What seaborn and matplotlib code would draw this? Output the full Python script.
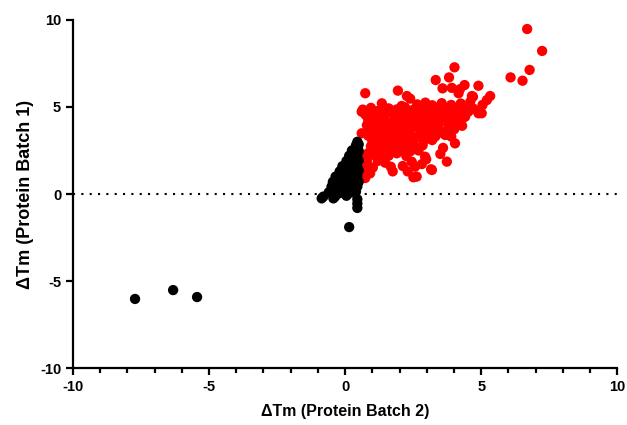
import numpy as np
import pandas as pd
import seaborn as sns
import matplotlib.pyplot as plt

# values: (batch 2, batch 1) delta Tm
red_x = [6.69, 7.24, 6.78, 6.08, 6.52, 4.02, 3.33, 3.82, 3.58, 4.39, 4.90, 0.74, 1.94, 2.27, 2.39,
         4.17, 4.66, 5.33, 5.21, 1.35, 2.08, 0.61, 4.90, 5.02, 4.41, 4.01, 4.04, 3.74, 3.16, 2.57,
         2.63, 2.51, 2.12, 1.68, 1.47, 0.92, 0.61, 1.04, 2.98, 0.85, 0.80, 0.74, 1.90, 1.21, 2.70,
         3.31, 4.04, 4.53, 4.60, 3.98, 3.68, 0.74, 2.94, 2.57, 3.31, 1.47, 0.92, 1.65, 4.70, 3.19,
         1.02, 1.32, 2.30, 2.82, 3.50, 3.90, 4.30, 4.72, 5.05, 3.92, 4.22, 1.75, 2.45, 0.70, 3.60,
         # dense core
         2.65, 2.95, 3.20, 3.55, 3.90, 4.25,
         0.65, 0.95, 1.25, 1.60, 1.90, 2.20, 2.50, 2.80, 3.05, 3.35, 3.65, 3.95, 4.30, 4.55,
         0.75, 1.05, 1.40, 1.70, 2.00, 2.30, 2.60, 2.90, 3.20, 3.50, 3.80, 4.10, 4.40,
         0.85, 1.15, 1.45, 1.80, 2.10, 2.40, 2.75, 3.05, 3.35, 3.70, 4.00, 4.30,
         0.80, 1.10, 1.35, 1.65, 1.95, 2.30, 2.60, 2.85, 3.15, 3.45, 3.80, 4.15,
         0.90, 1.20, 1.55, 1.85, 2.15, 2.45, 2.80, 3.10, 3.40, 3.70,
         0.85, 1.10, 1.40, 1.75, 2.05, 2.35, 2.70, 3.00, 3.35,
         1.00, 1.30, 1.65, 1.95, 2.25, 2.55, 2.90, 3.20,
         0.95, 1.25, 1.55, 1.90, 2.20, 2.50, 2.85,
         1.10, 1.40, 1.75, 2.10, 2.40, 2.70,
         1.60, 2.25, 1.20]
red_y = [9.48, 8.22, 7.13, 6.70, 6.51, 7.28, 6.55, 6.70, 6.07, 6.26, 6.22, 5.79, 5.94, 5.63, 5.48,
         5.79, 5.63, 5.63, 5.40, 5.21, 5.06, 4.73, 4.64, 4.64, 4.44, 3.72, 2.91, 1.86, 1.42, 1.57,
         1.00, 0.96, 1.61, 1.57, 1.80, 1.19, 3.49, 2.24, 1.99, 2.35, 1.86, 0.92, 2.34, 2.24, 4.73,
         4.92, 4.92, 4.73, 5.30, 3.78, 3.39, 2.14, 2.14, 2.62, 3.30, 3.20, 4.83, 4.83, 5.59, 1.38,
         1.52, 2.02, 1.30, 1.72, 2.30, 3.30, 3.92, 4.90, 5.12, 6.10, 6.02, 1.30, 1.85, 1.40, 2.65,
         5.15, 5.25, 5.10, 5.22, 5.12, 5.20,
         4.85, 4.95, 4.80, 4.92, 4.86, 4.98, 4.84, 4.94, 4.82, 4.96, 4.88, 4.90, 4.84, 4.93,
         4.55, 4.65, 4.58, 4.66, 4.52, 4.62, 4.57, 4.68, 4.54, 4.63, 4.56, 4.64, 4.60,
         4.25, 4.35, 4.28, 4.22, 4.36, 4.30, 4.24, 4.33, 4.27, 4.38, 4.26, 4.32,
         3.95, 4.05, 3.98, 4.08, 3.94, 4.02, 3.96, 4.07, 3.93, 4.04, 3.99, 4.06,
         3.65, 3.75, 3.68, 3.72, 3.64, 3.78, 3.66, 3.74, 3.70, 3.62,
         3.35, 3.45, 3.38, 3.42, 3.34, 3.47, 3.36, 3.44, 3.40,
         3.05, 3.15, 3.08, 3.12, 3.04, 3.16, 3.06, 3.10,
         2.75, 2.85, 2.78, 2.82, 2.74, 2.86, 2.80,
         2.45, 2.55, 2.48, 2.52, 2.46, 2.50,
         2.20, 2.18, 1.90]

black_x = [-7.72, -6.32, -5.44, 0.15, 0.45, 0.45,
           -0.86, -0.80, -0.43, -0.37, 0.05, 0.45,
           -0.60, -0.40, -0.20, 0.00, 0.20, 0.40,
           -0.50, -0.30, -0.10, 0.10, 0.30, 0.45,
           -0.45, -0.25, -0.05, 0.15, 0.35, 0.50,
           -0.35, -0.15, 0.05, 0.25, 0.45,
           -0.20, 0.00, 0.20, 0.40, 0.50,
           -0.10, 0.10, 0.30, 0.45,
           0.05, 0.20, 0.40, 0.50,
           0.15, 0.30, 0.45,
           0.25, 0.40, 0.50,
           0.40, 0.50, 0.45]
black_y = [-6.03, -5.52, -5.92, -1.90, -0.55, -0.80,
           -0.25, -0.15, -0.25, -0.15, -0.10, -0.30,
           0.10, 0.15, 0.05, 0.12, 0.08, 0.14,
           0.42, 0.38, 0.45, 0.40, 0.36, 0.44,
           0.70, 0.75, 0.68, 0.72, 0.74, 0.70,
           1.00, 1.05, 0.98, 1.02, 1.04,
           1.30, 1.35, 1.28, 1.32, 1.36,
           1.60, 1.65, 1.58, 1.62,
           1.90, 1.95, 1.88, 1.92,
           2.20, 2.25, 2.22,
           2.50, 2.55, 2.48,
           2.80, 2.85, 3.00]

df = pd.DataFrame({
    'batch2': red_x + black_x,
    'batch1': red_y + black_y,
    'group': ['shift'] * len(red_x) + ['none'] * len(black_x),
})

sns.set_style('ticks')
plt.rcParams['font.family'] = ['Liberation Sans', 'DejaVu Sans']
plt.rcParams['font.weight'] = 'bold'
plt.rcParams['axes.unicode_minus'] = False
plt.rcParams['text.color'] = 'black'
plt.rcParams['axes.labelcolor'] = 'black'

fig = plt.figure(figsize=(6.27, 4.25), dpi=100)
ax = fig.add_axes([0.1164, 0.134, 0.868, 0.819])

ax.axhline(0, color='black', linestyle=(0, (1, 3)), linewidth=1.5, zorder=1)

sns.scatterplot(data=df, x='batch2', y='batch1', hue='group',
                palette={'shift': '#ff0000', 'none': '#000000'},
                s=55, linewidth=0, legend=False, ax=ax, zorder=3)

ax.set_xlim(-10, 10)
ax.set_ylim(-10, 10)
ax.set_xticks([-10, -5, 0, 5, 10])
ax.set_xticks(np.arange(-10, 11, 1), minor=True)
ax.set_yticks([-10, -5, 0, 5, 10])

for side in ['top', 'right']:
    ax.spines[side].set_visible(False)
for side in ['left', 'bottom']:
    ax.spines[side].set_linewidth(1.6)
    ax.spines[side].set_color('black')

ax.tick_params(axis='both', which='major', length=5, width=1.6, labelsize=10.5,
               color='black', labelcolor='black')
ax.tick_params(axis='x', which='minor', length=3.5, width=1.6, color='black')
for lbl in ax.get_xticklabels() + ax.get_yticklabels():
    lbl.set_fontweight('bold')

ax.set_xlabel('ΔTm (Protein Batch 2)', fontsize=11.5, fontweight='bold', labelpad=7)
ax.set_ylabel('ΔTm (Protein Batch 1)', fontsize=13, fontweight='bold', labelpad=4)

fig.savefig('out.png', dpi=100)
